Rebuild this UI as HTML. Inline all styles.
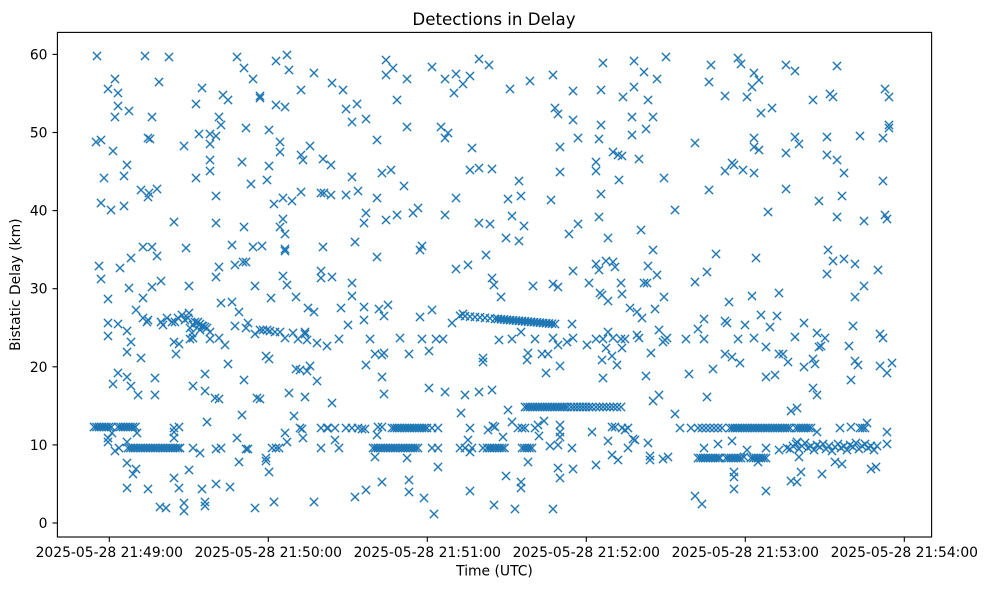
<!DOCTYPE html>
<html><head><meta charset="utf-8"><style>
html,body{margin:0;padding:0;background:#fff;}
svg{display:block;}
text{font-family:"DejaVu Sans","Liberation Sans",sans-serif;fill:#000;}
</style></head><body>
<svg width="986" height="590" viewBox="0 0 986 590" xmlns="http://www.w3.org/2000/svg">
<defs>
<marker id="m" markerWidth="12" markerHeight="12" refX="6" refY="6" markerUnits="userSpaceOnUse" overflow="visible">
<path d="M1.9 1.9L10.1 10.1M10.1 1.9L1.9 10.1" stroke="#1f77b4" stroke-width="1.4" fill="none"/>
</marker>
</defs>
<rect width="986" height="590" fill="#fff"/>
<g fill="#1f77b4">
<rect x="94" y="424.5" width="17.5" height="5"/>
<rect x="118" y="424.5" width="17.5" height="5"/>
<rect x="128" y="445.5" width="52" height="5"/>
<rect x="525" y="404.5" width="42.5" height="5"/>
<rect x="392" y="425.5" width="35" height="5"/>
<rect x="373" y="445.5" width="45" height="5"/>
<rect x="487" y="445.5" width="17.5" height="5"/>
<rect x="522" y="445.5" width="10" height="5"/>
<rect x="730" y="425.5" width="60" height="5"/>
<rect x="796" y="425.5" width="15" height="5"/>
<rect x="698" y="455.5" width="22" height="5"/>
<rect x="726" y="455.5" width="15" height="5"/>
<rect x="751" y="455.5" width="15" height="5"/>
<polygon points="495,316.3 555,321.5 555,326.5 495,321.3"/>
</g>
<g fill="none" stroke="none" marker-start="url(#m)" marker-mid="url(#m)" marker-end="url(#m)">
<polyline points="97,56 145,56 169,57 237,57 276,61 287,55 244,68 289,70 314,73 253,79 115,79 159,82 202,88 108,89 118,93 223,95 228,100 260,96 260,98 301,90 332,83 343,90 196,104 118,106 129,111 115,117 152,117 276,105 285,107 346,109 357,104 219,117 221,125 352,122 199,134 210,134 216,136 210,144 246,128 269,130 96,142 101,140 148,138 150,139 113,151 184,146 280,142 280,152 310,146 301,155 303,160 323,159 331,165 210,160 210,171 242,162 269,166 127,165 104,178 124,176 196,178 251,184 267,180 352,177 141,190 149,193 148,197 157,189 216,196 283,198 274,204 292,201 301,192 321,193 324,193 331,195 346,195 358,191 101,203 111,210 124,206 174,222 216,223 244,227 283,219 280,227 285,234 143,247 152,247 157,256 186,248 232,245 253,247 262,246 285,249 285,251 323,247 355,242 131,258 99,266 120,268 219,267 235,265 243,262 246,262 216,277 101,279 161,281 152,287 129,288 189,286 255,286 283,276 287,285 321,271 321,278 332,277 352,283"/>
<polyline points="108,299 143,298 221,303 232,302 271,298 296,297 352,296 136,310 239,312 308,308 314,312 341,308 143,318 148,320 147,322 161,322 163,325 167,318 172,322 175,322 178,318 182,315 189,313 108,323 118,324 127,331 108,336 131,342 127,352 141,358 190,328 193,325 197,323 200,324 203,326 207,328 210,332 192,333 200,330 185,320 188,318 195,322 198,322 202,326 205,327 235,326 246,328 248,323 255,334 260,330 263,330 267,330 270,331 275,332 280,332 285,338 293,333 298,339 305,332 305,334 307,340 317,343 327,346 339,339 348,325 174,342 179,344 176,354 190,339 193,338 210,339 219,338 225,345 228,364 266,356 269,359 296,369 300,370 307,371 310,366 317,381 118,373 113,384 127,377 131,386 138,395 155,378 155,395 193,386 205,374 205,391 215,398 219,399 244,380 257,398 260,399 289,393 305,397 332,403 242,415 294,416 207,422 108,438 108,442 112,433 115,451 119,448 127,442 137,433 174,428 179,427 174,438 174,432 193,448 200,453 216,449 221,448 237,438 239,462 246,449 248,449 266,458 266,461 269,472 272,448 276,448 279,448 285,433 287,442 300,428 302,429 303,438 321,428 327,428 328,428 335,428 346,428 352,428 358,428 335,440 339,448 321,448 127,463 136,469 133,474 174,478 189,470 127,488 148,489 179,488 202,489 216,484 230,487 160,507 166,508 184,503 184,511 205,502 205,506 255,508 274,502 314,502 355,497"/>
<polyline points="386,60 393,68 386,75 407,79 432,67 479,59 489,65 445,79 456,74 470,76 463,84 454,93 510,89 530,81 553,75 603,63 634,61 573,91 601,90 623,97 634,87 397,100 366,119 407,127 441,127 448,133 445,138 555,108 558,114 573,120 601,125 632,117 632,135 377,140 472,148 578,138 599,139 560,147 613,152 618,155 622,156 596,162 596,171 382,173 391,170 470,170 479,168 492,169 560,172 519,181 619,180 404,186 377,198 456,198 508,199 521,196 551,200 601,194 366,213 364,223 386,220 397,215 413,213 418,208 445,215 479,223 490,224 512,216 524,226 599,217 578,224 569,234 506,238 519,241 608,238 377,257 420,250 422,246 486,255 456,269 468,265 492,278 494,285 533,286 553,284 558,287 573,271 589,283 596,264 599,270 606,261 613,262 615,267 621,283"/>
<polyline points="501,297 600,293 602,295 608,301 622,294 630,308 364,307 379,309 388,305 384,316 364,320 420,317 432,310 452,323 463,314 572,324 370,339 400,338 422,339 436,339 443,339 499,340 512,339 521,332 535,339 553,338 558,345 567,342 573,338 587,345 596,339 603,339 608,332 606,348 613,338 621,339 625,339 622,348 612,356 617,365 602,360 603,378 375,354 384,353 382,355 409,354 429,351 366,365 382,377 384,394 483,358 483,362 528,353 527,360 542,354 548,354 560,366 546,373 429,388 445,392 465,395 479,392 492,390 508,410 461,413 362,429 365,429 378,427 382,427 377,435 432,428 438,428 470,428 488,430 493,426 495,427 503,437 512,422 518,428 522,428 525,428 535,428 538,425 544,421 539,436 560,425 560,432 560,437 550,446 558,445 572,448 592,432 612,427 615,427 622,428 625,430 628,428 608,441 633,439 628,448 612,455 618,460 596,465 375,457 407,458 432,448 438,448 460,448 465,448 468,440 470,452 472,448 483,448 528,462 438,467 558,468 560,478 573,469 506,476 521,482 521,488 382,482 366,490 409,480 409,492 424,498 434,514 470,491 494,505 515,509 553,509"/>
<polyline points="666,57 644,72 657,79 648,100 653,117 646,129 639,159 664,178 675,210 641,230 653,250 648,266 657,275 644,283 647,283 695,282 707,272 716,254 711,65 709,82 725,96 695,143 709,190 738,58 741,64 754,73 759,80 752,87 747,97 761,113 772,108 754,138 754,147 759,150 786,153 732,163 734,165 725,171 743,170 754,173 786,189 768,212 756,258 786,65 795,71 837,66 813,100 830,94 833,97 795,137 799,144 827,137 827,155 837,160 844,173 860,136 883,138 889,125 889,128 885,89 889,97 883,181 819,201 842,196 837,217 864,221 885,215 887,219 828,250 833,261 844,259 855,264 878,270 827,274 864,286"/>
<polyline points="664,297 729,302 752,296 779,293 855,297 637,312 642,318 655,309 704,319 725,321 727,323 745,325 761,315 777,316 770,327 804,323 795,337 817,333 825,338 821,346 819,347 853,326 849,346 855,361 858,365 880,334 883,338 880,366 887,373 892,363 637,335 639,338 659,330 665,340 663,342 667,338 686,339 698,329 704,339 738,339 754,338 766,347 651,353 725,354 732,357 740,363 713,369 689,374 646,376 766,377 775,375 779,354 783,354 788,362 804,367 813,359 815,364 851,380 813,388 817,395 659,395 653,401 707,397 675,414 791,411 797,408 680,428 691,428 817,432 840,428 851,427 867,423 887,432 887,444 635,440 648,443 650,456 650,460 663,459 668,457 704,448 718,444 732,441 747,450 766,448 779,450 787,448 790,449 797,442 799,457 744,457 758,462 734,472 734,477 734,489 766,491 791,481 797,482 801,472 822,474 835,462 842,464 871,469 876,467 695,496 702,504"/>
<polyline points="94,427 96.5,427 99,427 101.5,427 104,427 106.5,427 109,427 111.5,427 118,427 120.5,427 123,427 125.5,427 128,427 130.5,427 133,427 135.5,427"/>
<polyline points="128,448 130.5,448 133,448 135.5,448 138,448 140.5,448 143,448 145.5,448 148,448 150.5,448 153,448 155.5,448 158,448 160.5,448 163,448 165.5,448 168,448 170.5,448 173,448 175.5,448 178,448 180,448"/>
<polyline points="525,407 527.5,407 530,407 532.5,407 535,407 537.5,407 540,407 542.5,407 545,407 547.5,407 550,407 552.5,407 555,407 557.5,407 560,407 562.5,407 565,407 567.5,407 571,407 574,407 577,407 580,407 583,407 586,407 589,407 592,407 596,407 599.5,407 603,407 606.5,407 610,407 613.5,407 617,407 621,407"/>
<polyline points="392,428 394.5,428 397,428 399.5,428 402,428 404.5,428 407,428 409.5,428 412,428 414.5,428 417,428 419.5,428 422,428 424.5,428 427,428"/>
<polyline points="373,448 375.5,448 378,448 380.5,448 383,448 385.5,448 388,448 390.5,448 393,448 395.5,448 398,448 400.5,448 403,448 405.5,448 408,448 410.5,448 413,448 415.5,448 418,448 487,448 489.5,448 492,448 494.5,448 497,448 499.5,448 502,448 504.5,448 522,448 524.5,448 527,448 529.5,448 532,448"/>
<polyline points="698,428 702,428 706,428 710,428 714,428 718,428 722,428 730,428 732.5,428 735,428 737.5,428 740,428 742.5,428 745,428 747.5,428 750,428 752.5,428 755,428 757.5,428 760,428 762.5,428 765,428 767.5,428 770,428 772.5,428 775,428 777.5,428 780,428 782.5,428 785,428 787.5,428 790,428 796,428 798.5,428 801,428 803.5,428 806,428 808.5,428 811,428 860,428 862.5,428 865,428"/>
<polyline points="793,446 796,444 799,449 802,446 805,443 808,448 811,446 814,450 817,445 820,447 823,444 826,449 829,446 832,451 835,447 838,444 841,448 844,446 847,450 850,445 853,447 856,443 859,449 862,446 865,444 868,448 871,446 874,450 877,446"/>
<polyline points="698,458 700.5,458 703,458 705.5,458 708,458 710.5,458 713,458 715.5,458 718,458 720,458 726,458 728.5,458 731,458 733.5,458 736,458 738.5,458 741,458 751,458 753.5,458 756,458 758.5,458 761,458 763.5,458 766,458"/>
<polyline points="460,315.7 465,316.1 470,316.6 475,317 480,317.4 485,317.9 490,318.3 495,318.8 498,319 501,319.3 504,319.5 507,319.8 510,320.1 513,320.3 516,320.6 519,320.9 522,321.1 525,321.4 528,321.6 531,321.9 534,322.2 537,322.4 540,322.7 543,323 546,323.2 549,323.5 552,323.7 555,324"/>
</g>
<rect x="57.4" y="32.4" width="874.2" height="504.6" fill="none" stroke="#000" stroke-width="1.1"/>
<g stroke="#000" stroke-width="1.1">
<line x1="52.5" y1="523" x2="57.4" y2="523"/>
<line x1="52.5" y1="444.9" x2="57.4" y2="444.9"/>
<line x1="52.5" y1="366.8" x2="57.4" y2="366.8"/>
<line x1="52.5" y1="288.7" x2="57.4" y2="288.7"/>
<line x1="52.5" y1="210.6" x2="57.4" y2="210.6"/>
<line x1="52.5" y1="132.5" x2="57.4" y2="132.5"/>
<line x1="52.5" y1="54.4" x2="57.4" y2="54.4"/>
<line x1="109.3" y1="537" x2="109.3" y2="541.9"/>
<line x1="268.3" y1="537" x2="268.3" y2="541.9"/>
<line x1="427.3" y1="537" x2="427.3" y2="541.9"/>
<line x1="586.3" y1="537" x2="586.3" y2="541.9"/>
<line x1="745.3" y1="537" x2="745.3" y2="541.9"/>
<line x1="904.3" y1="537" x2="904.3" y2="541.9"/>
</g>
<g font-size="13.89" text-anchor="end">
<text x="47.5" y="528">0</text>
<text x="47.5" y="449.9">10</text>
<text x="47.5" y="371.8">20</text>
<text x="47.5" y="293.7">30</text>
<text x="47.5" y="215.6">40</text>
<text x="47.5" y="137.5">50</text>
<text x="47.5" y="59.4">60</text>
</g>
<g font-size="13.89" text-anchor="middle">
<text x="109.3" y="557">2025-05-28 21:49:00</text>
<text x="268.3" y="557">2025-05-28 21:50:00</text>
<text x="427.3" y="557">2025-05-28 21:51:00</text>
<text x="586.3" y="557">2025-05-28 21:52:00</text>
<text x="745.3" y="557">2025-05-28 21:53:00</text>
<text x="904.3" y="557">2025-05-28 21:54:00</text>
<text x="494.5" y="575.5">Time (UTC)</text>
<text transform="translate(20,284.7) rotate(-90)" x="0" y="0">Bistatic Delay (km)</text>
</g>
<text x="494" y="25" font-size="16.67" text-anchor="middle">Detections in Delay</text>
</svg>
</body></html>
